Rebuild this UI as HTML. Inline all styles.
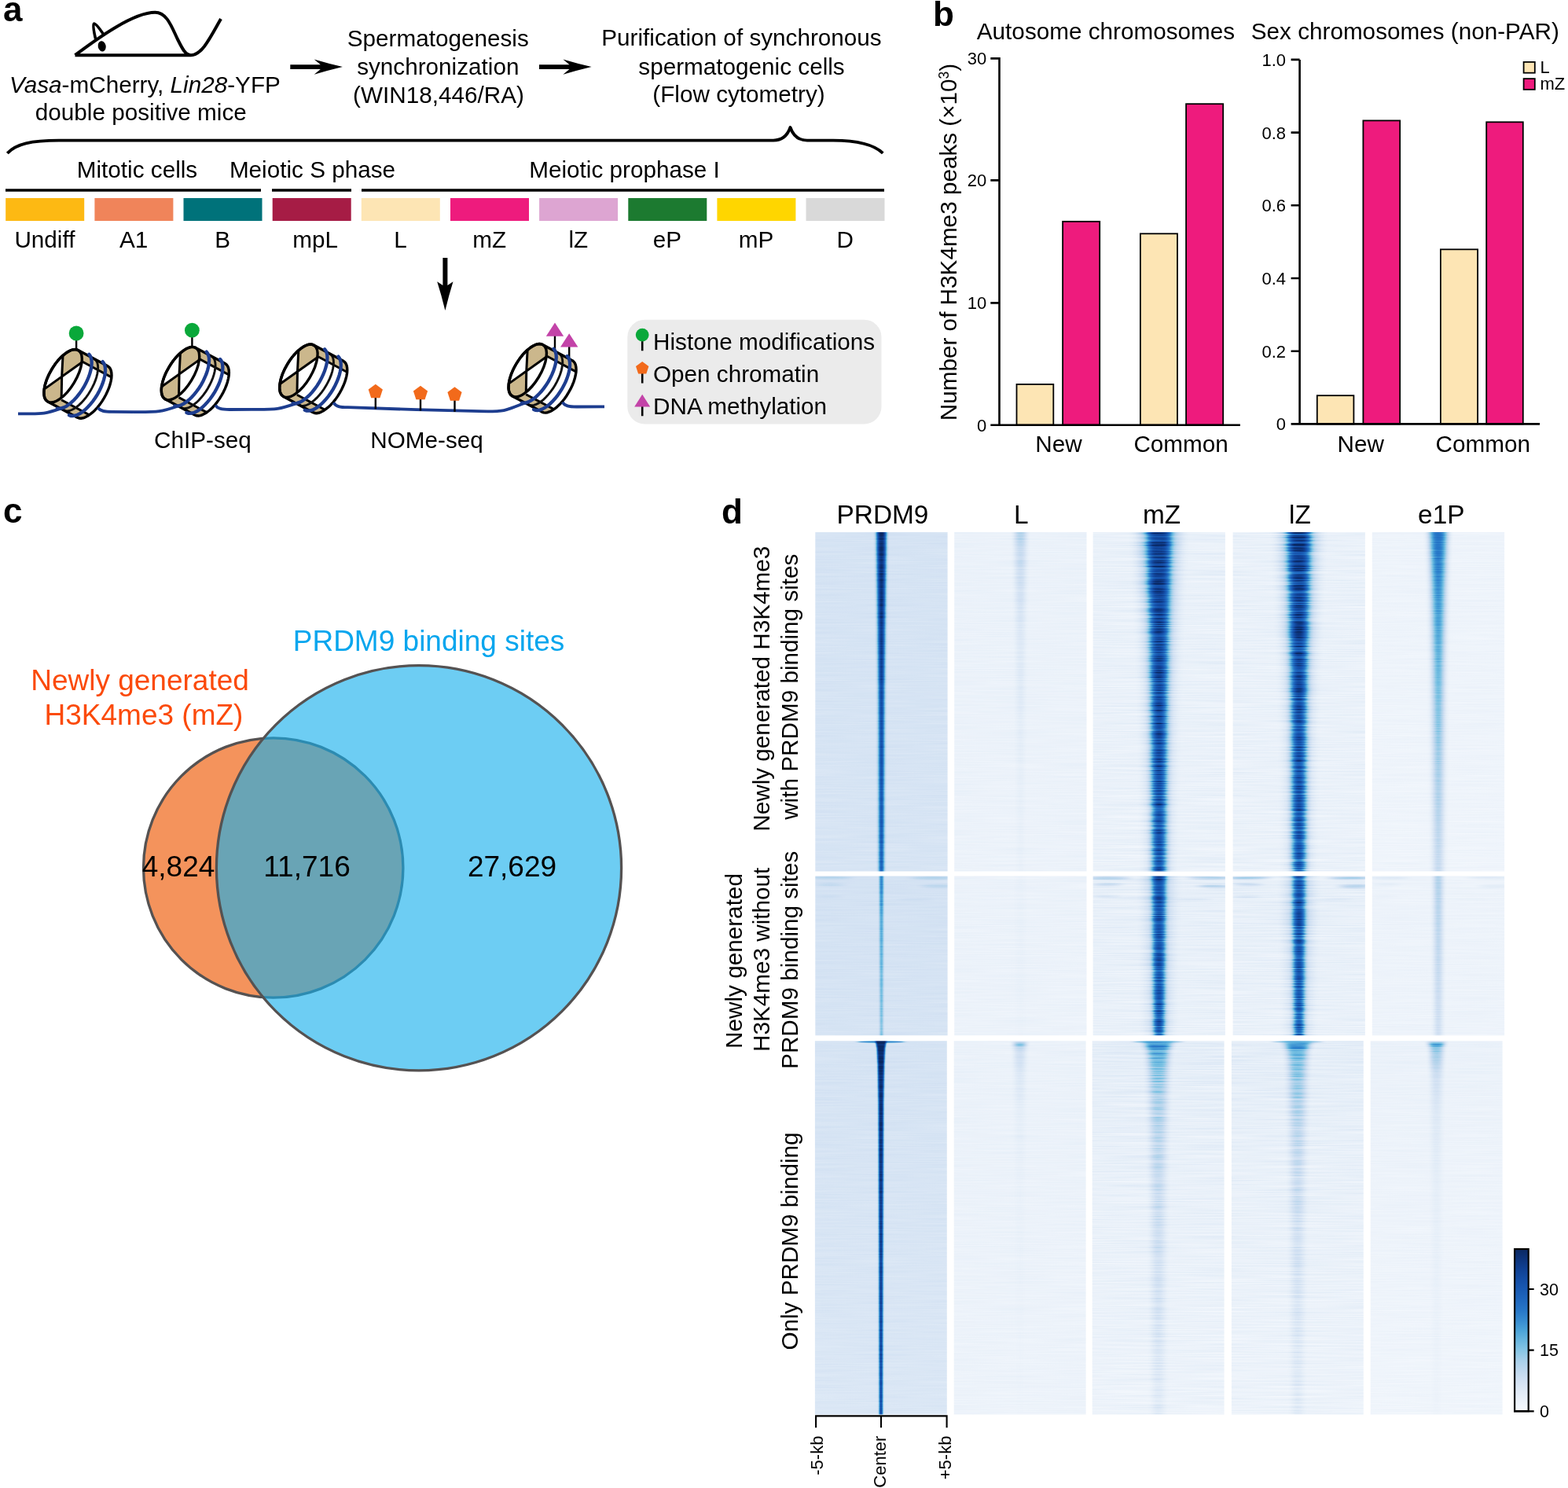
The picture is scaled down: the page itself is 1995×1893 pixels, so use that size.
<!DOCTYPE html>
<html lang="en">
<head>
<meta charset="utf-8">
<title>Figure</title>
<style>
html,body{margin:0;padding:0;background:#fff;}
body{width:1995px;height:1893px;overflow:hidden;}
svg{display:block;}
svg text{font-family:'Liberation Sans', Arial, Helvetica, sans-serif;}
</style>
</head>
<body>
<svg width="1995" height="1893" viewBox="0 0 1995 1893">
<rect width="1995" height="1893" fill="#fff"/>
<g id="panel_a">
<defs><clipPath id="nhull"><path d="M57.0,-12.5 L58.7,-11.2 L60.1,-9.4 L61.1,-7.1 L61.7,-4.2 L61.9,-1.0 L61.7,2.6 L61.0,6.5 L60.0,10.6 L58.6,14.9 L56.8,19.3 L54.7,23.7 L52.3,28.0 L49.7,32.3 L46.9,36.3 L43.9,40.0 L40.8,43.4 L37.6,46.4 L34.4,48.9 L31.3,51.0 L28.3,52.5 L25.5,53.5 L22.9,53.9 L20.5,53.7 L18.4,52.9 L-19.3,32.7 L-21.0,31.4 L-22.4,29.6 L-23.4,27.3 L-24.0,24.4 L-24.2,21.2 L-24.0,17.6 L-23.3,13.7 L-22.3,9.6 L-20.9,5.3 L-19.1,0.9 L-17.0,-3.5 L-14.6,-7.8 L-12.0,-12.1 L-9.2,-16.1 L-6.2,-19.8 L-3.1,-23.2 L0.1,-26.2 L3.3,-28.7 L6.4,-30.8 L9.4,-32.3 L12.2,-33.3 L14.8,-33.7 L17.2,-33.5 L19.3,-32.7Z"/></clipPath><clipPath id="nface"><ellipse rx="16.6" ry="38.0" transform="rotate(31.0)"/></clipPath><g id="nuc"><path d="M57.0,-12.5 L58.7,-11.2 L60.1,-9.4 L61.1,-7.1 L61.7,-4.2 L61.9,-1.0 L61.7,2.6 L61.0,6.5 L60.0,10.6 L58.6,14.9 L56.8,19.3 L54.7,23.7 L52.3,28.0 L49.7,32.3 L46.9,36.3 L43.9,40.0 L40.8,43.4 L37.6,46.4 L34.4,48.9 L31.3,51.0 L28.3,52.5 L25.5,53.5 L22.9,53.9 L20.5,53.7 L18.4,52.9 L-19.3,32.7 L-21.0,31.4 L-22.4,29.6 L-23.4,27.3 L-24.0,24.4 L-24.2,21.2 L-24.0,17.6 L-23.3,13.7 L-22.3,9.6 L-20.9,5.3 L-19.1,0.9 L-17.0,-3.5 L-14.6,-7.8 L-12.0,-12.1 L-9.2,-16.1 L-6.2,-19.8 L-3.1,-23.2 L0.1,-26.2 L3.3,-28.7 L6.4,-30.8 L9.4,-32.3 L12.2,-33.3 L14.8,-33.7 L17.2,-33.5 L19.3,-32.7Z" fill="#fff"/><g clip-path="url(#nhull)"><path d="M17.5,-22.0 L81.6,12.3 L81.6,-218.0 L-175.0,-218.0 L-175.0,-42.0Z" fill="#cbb78c"/><path d="M-13.3,24.4 L54.6,60.8 L54.6,230.5 L-202.0,230.5 L-202.0,30.5Z" fill="#cbb78c"/><path d="M25.0,-18.0 l45.2,24.2 M-2.0,30.5 l45.2,24.2" stroke="#000" stroke-width="3" fill="none"/><path d="M39.6,-21.8 L41.4,-20.5 L42.8,-18.7 L43.8,-16.3 L44.4,-13.5 L44.6,-10.3 L44.3,-6.7 L43.7,-2.8 L42.7,1.3 L41.3,5.6 L39.5,10.0 L37.4,14.4 L35.0,18.8 L32.4,23.0 L29.5,27.0 L26.5,30.7 L23.4,34.1 L20.3,37.1 L17.1,39.6 L14.0,41.7 L11.0,43.2 L8.2,44.2 L5.5,44.6 L3.2,44.4 L1.1,43.7" stroke="#111" stroke-width="2.9" fill="none"/></g><ellipse rx="16.6" ry="38.0" transform="rotate(31.0)" fill="#fff"/><g clip-path="url(#nface)"><path d="M-0.6,1.3 L0.5,-60.5 L60.0,-60.0 L55.0,-39.0Z" fill="#cbb78c"/><path d="M-0.6,1.3 L-54.0,38.0 L-60.0,60.0 L-3.5,60.5Z" fill="#cbb78c"/><path d="M0.5,-36.5 Q-2.1,1.3 -2.0,36.5 M-29.0,20.5 L30.0,-21.5" stroke="#000" stroke-width="3" fill="none"/></g><ellipse rx="16.6" ry="38.0" transform="rotate(31.0)" fill="none" stroke="#000" stroke-width="3.4"/><path d="M57.0,-12.5 L58.7,-11.2 L60.1,-9.4 L61.1,-7.1 L61.7,-4.2 L61.9,-1.0 L61.7,2.6 L61.0,6.5 L60.0,10.6 L58.6,14.9 L56.8,19.3 L54.7,23.7 L52.3,28.0 L49.7,32.3 L46.9,36.3 L43.9,40.0 L40.8,43.4 L37.6,46.4 L34.4,48.9 L31.3,51.0 L28.3,52.5 L25.5,53.5 L22.9,53.9 L20.5,53.7 L18.4,52.9 L-19.3,32.7 L-21.0,31.4 L-22.4,29.6 L-23.4,27.3 L-24.0,24.4 L-24.2,21.2 L-24.0,17.6 L-23.3,13.7 L-22.3,9.6 L-20.9,5.3 L-19.1,0.9 L-17.0,-3.5 L-14.6,-7.8 L-12.0,-12.1 L-9.2,-16.1 L-6.2,-19.8 L-3.1,-23.2 L0.1,-26.2 L3.3,-28.7 L6.4,-30.8 L9.4,-32.3 L12.2,-33.3 L14.8,-33.7 L17.2,-33.5 L19.3,-32.7Z" fill="none" stroke="#000" stroke-width="3.4" stroke-linejoin="round"/></g><g id="nucblue" fill="none" stroke="#1d3d8f" stroke-width="4.3" stroke-linecap="round"><path d="M33.2,-27.5 L34.7,-25.5 L35.7,-23.0 L36.4,-20.0 L36.6,-16.6 L36.3,-12.8 L35.7,-8.7 L34.6,-4.3 L33.1,0.3 L31.2,4.9 L29.0,9.6 L26.5,14.2 L23.7,18.6 L20.6,22.9 L17.5,26.8 L14.2,30.4 L10.8,33.6 L7.5,36.3 L4.2,38.5 L1.0,40.1 L-2.0,41.1 L-4.8,41.5 L-7.3,41.4"/><path d="M50.5,-18.2 L52.0,-16.2 L53.1,-13.7 L53.7,-10.8 L53.9,-7.3 L53.7,-3.5 L53.0,0.6 L51.9,5.0 L50.4,9.6 L48.6,14.2 L46.3,18.9 L43.8,23.5 L41.0,27.9 L38.0,32.2 L34.8,36.1 L31.5,39.7 L28.2,42.9 L24.8,45.6 L21.5,47.8 L18.4,49.4 L15.4,50.4 L12.6,50.8 L10.1,50.7 L7.9,49.9"/></g></defs>
<text x="4" y="27" font-size="44" font-weight="bold">a</text>
<path d="M95.5,70.2 H243 M95.5,70.2 C125,48 170,15.8 197.3,15.8 C213,15.8 219,36 226,50 C232,62 236,70.2 243,70.2 C257,70.2 268,47 281,24" fill="none" stroke="#000" stroke-width="4" stroke-linejoin="round"/>
<path d="M121.6,49.5 Q117.5,32 119.6,30 Q122.5,30 131.5,43.5" fill="none" stroke="#000" stroke-width="3.6" stroke-linejoin="round"/>
<ellipse cx="129.7" cy="58.9" rx="5" ry="6.7" transform="rotate(-12 129.7 58.9)"/>
<text x="12" y="117.8" font-size="29.7"><tspan font-style="italic">Vasa</tspan>-mCherry, <tspan font-style="italic">Lin28</tspan>-YFP</text>
<text x="179.3" y="152.6" font-size="29.7" text-anchor="middle">double positive mice</text>
<path d="M369.3,82.19999999999999 H407.8 L399.7,75.39999999999999 Q417.3,80.6 435.9,85.1 Q417.3,89.6 399.7,94.8 L407.8,88.0 H369.3 Z" fill="#000"/>
<text x="557.3" y="59.2" font-size="29.7" text-anchor="middle">Spermatogenesis</text>
<text x="557.3" y="94.7" font-size="29.7" text-anchor="middle">synchronization</text>
<text x="558" y="130.8" font-size="29.7" text-anchor="middle">(WIN18,446/RA)</text>
<path d="M686,82.19999999999999 H724.5 L716.4,75.39999999999999 Q734,80.6 752.6,85.1 Q734,89.6 716.4,94.8 L724.5,88.0 H686 Z" fill="#000"/>
<text x="943.5" y="58.4" font-size="29.7" text-anchor="middle">Purification of synchronous</text>
<text x="943.5" y="94.7" font-size="29.7" text-anchor="middle">spermatogenic cells</text>
<text x="940" y="130" font-size="29.7" text-anchor="middle">(Flow cytometry)</text>
<path d="M9.3,195 C20,183 40,178.6 75,178.6 H984 C996,178.6 1002,172 1005.5,162 C1009,172 1015,178.6 1027,178.6 H1060 C1092,178.6 1112,184 1123.3,194.8" fill="none" stroke="#000" stroke-width="3.8" stroke-linejoin="round"/>
<text x="174.5" y="225.5" font-size="29.7" text-anchor="middle">Mitotic cells</text>
<text x="397.5" y="225.5" font-size="29.7" text-anchor="middle">Meiotic S phase</text>
<text x="794.5" y="225.5" font-size="29.7" text-anchor="middle">Meiotic prophase I</text>
<path d="M7,242 H332 M346,242 H447 M460,242 H1125" stroke="#000" stroke-width="3.7" fill="none"/>
<rect x="7.2" y="252" width="100" height="29" fill="#fdb913"/>
<text x="56.9" y="314.6" font-size="29.7" text-anchor="middle">Undiff</text>
<rect x="120.4" y="252" width="100" height="29" fill="#f0845a"/>
<text x="170.1" y="314.6" font-size="29.7" text-anchor="middle">A1</text>
<rect x="233.5" y="252" width="100" height="29" fill="#00727a"/>
<text x="283.2" y="314.6" font-size="29.7" text-anchor="middle">B</text>
<rect x="346.7" y="252" width="100" height="29" fill="#a61c45"/>
<text x="401.2" y="314.6" font-size="29.7" text-anchor="middle">mpL</text>
<rect x="459.8" y="252" width="100" height="29" fill="#fde5b4"/>
<text x="509.5" y="314.6" font-size="29.7" text-anchor="middle">L</text>
<rect x="573.0" y="252" width="100" height="29" fill="#ee1b7d"/>
<text x="622.7" y="314.6" font-size="29.7" text-anchor="middle">mZ</text>
<rect x="686.1" y="252" width="100" height="29" fill="#dda5d2"/>
<text x="735.8" y="314.6" font-size="29.7" text-anchor="middle">lZ</text>
<rect x="799.3" y="252" width="100" height="29" fill="#1c7a30"/>
<text x="849.0" y="314.6" font-size="29.7" text-anchor="middle">eP</text>
<rect x="912.4" y="252" width="100" height="29" fill="#ffd600"/>
<text x="962.1" y="314.6" font-size="29.7" text-anchor="middle">mP</text>
<rect x="1025.5" y="252" width="100" height="29" fill="#d9d9d9"/>
<text x="1075.2" y="314.6" font-size="29.7" text-anchor="middle">D</text>
<path d="M563.4,328.1 H569.4 V363 L576.5,358.2 Q571,376 566.4,395 Q561.8,376 556.2,358.2 L563.4,363 Z" fill="#000"/>
<path d="M97.1,430 V446 M244.4,427 V443 M706,426 V446 M724.2,440 V456" stroke="#000" stroke-width="2.4" fill="none"/>
<use href="#nuc" x="80.1" y="478.3"/>
<use href="#nuc" x="229.5" y="475.1"/>
<use href="#nuc" x="379.9" y="471.8"/>
<use href="#nuc" x="671.2" y="471.2"/>
<g fill="none" stroke="#1d3d8f" stroke-width="3.8" stroke-linecap="butt" stroke-linejoin="round">
<path d="M23,526.3 C53.3,526.3 53.5,527.9 78.1,519.4"/>
<path d="M124.6,518.8 C127.6,522.8 132.6,523.8 142.6,523.8 L170,524.2 "/>
<path d="M170,524.2 C201.6,524.2 202.9,524.7 227.5,516.2"/>
<path d="M274.0,515.6 C277.0,520.0 282.0,521.0 292.0,521.0 L320,520.8"/>
<path d="M320,520.8 C351.9,520.8 353.3,521.4 377.9,512.9"/>
<path d="M424.4,512.3 C427.4,517.2 432.4,518.2 442.4,518.2 L530,521.2 L620,523.3"/>
<path d="M620,523.3 C647.1,523.3 644.6,520.8 669.2,512.3"/>
<path d="M715.7,511.7 C718.7,516.5 723.7,517.5 733.7,517.5 L769,517.3"/>
</g>
<use href="#nucblue" x="80.1" y="478.3"/>
<use href="#nucblue" x="229.5" y="475.1"/>
<use href="#nucblue" x="379.9" y="471.8"/>
<use href="#nucblue" x="671.2" y="471.2"/>
<circle cx="97.1" cy="424" r="9.4" fill="#0aa83a"/><circle cx="244.4" cy="420.2" r="9.4" fill="#0aa83a"/>
<path d="M477.8,504.4 V520.4" stroke="#000" stroke-width="2.4"/>
<polygon points="477.8,488.8 486.9,495.4 483.4,506.2 472.2,506.2 468.7,495.4" fill="#f26a1b"/>
<path d="M535,506.4 V522.4" stroke="#000" stroke-width="2.4"/>
<polygon points="535.0,490.8 544.1,497.4 540.6,508.2 529.4,508.2 525.9,497.4" fill="#f26a1b"/>
<path d="M578.5,507.9 V523.9" stroke="#000" stroke-width="2.4"/>
<polygon points="578.5,492.3 587.6,498.9 584.1,509.7 572.9,509.7 569.4,498.9" fill="#f26a1b"/>
<polygon points="706,410.4 717.2,427.7 694.8,427.7" fill="#c343a8"/><polygon points="724.2,424.2 735.4,441.5 713,441.5" fill="#c343a8"/>
<rect x="798.3" y="406.7" width="323.2" height="132.7" rx="22" fill="#ebebeb"/>
<path d="M817.2,432 V446.2 M817.2,474 V487.6 M817.2,516 V529.2" stroke="#000" stroke-width="2.6"/>
<circle cx="817.2" cy="426.1" r="8.4" fill="#0aa83a"/>
<polygon points="817.2,460.0 825.4,465.9 822.3,475.6 812.1,475.6 809.0,465.9" fill="#f26a1b"/>
<polygon points="817.2,501.7 827.2,517.6 807.2,517.6" fill="#c343a8"/>
<text x="831" y="445" font-size="29.7">Histone modifications</text>
<text x="831" y="485.7" font-size="29.7">Open chromatin</text>
<text x="831" y="527" font-size="29.7">DNA methylation</text>
<text x="258" y="570" font-size="29.7" text-anchor="middle">ChIP-seq</text>
<text x="543" y="570" font-size="29.7" text-anchor="middle">NOMe-seq</text>
</g>
<g id="panel_b">
<text x="1187" y="32.5" font-size="44" font-weight="bold">b</text>
<text x="1407" y="49.9" font-size="29.7" text-anchor="middle">Autosome chromosomes</text>
<text x="1787.8" y="49.9" font-size="29.7" text-anchor="middle">Sex chromosomes (non-PAR)</text>
<rect x="1293.5" y="488.9" width="46.8" height="51.8" fill="#fde5b4" stroke="#000" stroke-width="1.8"/>
<rect x="1352.1" y="281.8" width="47.1" height="258.9" fill="#ee1b7d" stroke="#000" stroke-width="1.8"/>
<rect x="1450.9" y="297.3" width="47.1" height="243.4" fill="#fde5b4" stroke="#000" stroke-width="1.8"/>
<rect x="1509.1" y="132.2" width="47.1" height="408.5" fill="#ee1b7d" stroke="#000" stroke-width="1.8"/>
<path d="M1260.3,74.4 H1271.5 V540.7 M1260.3,229.4 H1271.5 M1260.3,385.4 H1271.5 M1260.3,540.7 H1577.9" fill="none" stroke="#000" stroke-width="2.6"/>
<text x="1255.2" y="82.3" font-size="22" text-anchor="end">30</text>
<text x="1255.2" y="237.3" font-size="22" text-anchor="end">20</text>
<text x="1255.2" y="393.3" font-size="22" text-anchor="end">10</text>
<text x="1255.2" y="548.6" font-size="22" text-anchor="end">0</text>
<text x="1347" y="575.4" font-size="29.7" text-anchor="middle">New</text>
<text x="1502.6" y="575.4" font-size="29.7" text-anchor="middle">Common</text>
<text transform="translate(1216.5,308) rotate(-90)" font-size="29.7" text-anchor="middle">Number of H3K4me3 peaks (×10<tspan font-size="17.5" dy="-9.5">3</tspan><tspan dy="9.5">)</tspan></text>
<rect x="1675.8" y="503.2" width="46.6" height="36.2" fill="#fde5b4" stroke="#000" stroke-width="1.8"/>
<rect x="1734.4" y="153.4" width="46.8" height="386.0" fill="#ee1b7d" stroke="#000" stroke-width="1.8"/>
<rect x="1832.9" y="317.3" width="47.2" height="222.1" fill="#fde5b4" stroke="#000" stroke-width="1.8"/>
<rect x="1891.2" y="155.3" width="46.6" height="384.1" fill="#ee1b7d" stroke="#000" stroke-width="1.8"/>
<path d="M1642.6,75.9 H1653.6 M1642.6,168.6 H1653.6 M1642.6,261.3 H1653.6 M1642.6,354 H1653.6 M1642.6,446.7 H1653.6 M1653.6,75.9 V539.4 M1642.6,539.4 H1959.1" fill="none" stroke="#000" stroke-width="2.6"/>
<text x="1636" y="83.8" font-size="22" text-anchor="end">1.0</text>
<text x="1636" y="176.5" font-size="22" text-anchor="end">0.8</text>
<text x="1636" y="269.2" font-size="22" text-anchor="end">0.6</text>
<text x="1636" y="361.9" font-size="22" text-anchor="end">0.4</text>
<text x="1636" y="454.6" font-size="22" text-anchor="end">0.2</text>
<text x="1636" y="547.3" font-size="22" text-anchor="end">0</text>
<text x="1731.3" y="575.2" font-size="29.7" text-anchor="middle">New</text>
<text x="1886.8" y="575.2" font-size="29.7" text-anchor="middle">Common</text>
<rect x="1938.6" y="78.9" width="14.2" height="13.8" fill="#fde5b4" stroke="#000" stroke-width="1.8"/>
<rect x="1938.6" y="100.1" width="14.2" height="13.8" fill="#ee1b7d" stroke="#000" stroke-width="1.8"/>
<text x="1959.5" y="92.9" font-size="22">L</text>
<text x="1959.5" y="114.1" font-size="22">mZ</text>
</g>
<g id="panel_c">
<text x="4" y="665.3" font-size="44" font-weight="bold">c</text>
<text x="545.5" y="827.6" font-size="37" text-anchor="middle" fill="#08a6ee">PRDM9 binding sites</text>
<text x="178" y="877.7" font-size="37" text-anchor="middle" fill="#fb4a0a">Newly generated</text>
<text x="183" y="922" font-size="37" text-anchor="middle" fill="#fb4a0a">H3K4me3 (mZ)</text>
<circle cx="347.7" cy="1104" r="165.2" fill="#f4935c" stroke="#555252" stroke-width="3.3"/>
<circle cx="533" cy="1104.2" r="257.6" fill="#14afeb" fill-opacity="0.62"/>
<circle cx="533" cy="1104.2" r="257.6" fill="none" stroke="#555252" stroke-width="3.3"/>
<text x="227" y="1115" font-size="37" text-anchor="middle">4,824</text>
<text x="390.5" y="1115" font-size="37" text-anchor="middle">11,716</text>
<text x="651.5" y="1115" font-size="37" text-anchor="middle">27,629</text>
</g>
<g id="panel_d">
<defs><filter id="bluesA" color-interpolation-filters="sRGB" x="0" y="0" width="1" height="1"><feTurbulence type="fractalNoise" baseFrequency="0.012 0.7" numOctaves="2" seed="3" result="n"/><feColorMatrix in="n" type="matrix" values="0 0 0 0 0  0 0 0 0 0  0 0 0 0 0  1.8 0 0 0 -0.4" result="na"/><feColorMatrix in="na" type="matrix" values="0 0 0 1 0  0 0 0 1 0  0 0 0 1 0  0 0 0 0 1" result="ng"/><feComposite in="SourceGraphic" in2="ng" operator="arithmetic" k1="0.1" k2="0.950" k3="0.02" k4="-0.0100" result="m"/><feComponentTransfer in="m"><feFuncR type="table" tableValues="0.969 0.951 0.933 0.916 0.898 0.876 0.855 0.833 0.812 0.780 0.749 0.718 0.686 0.634 0.582 0.530 0.478 0.431 0.384 0.337 0.290 0.259 0.227 0.196 0.165 0.152 0.139 0.126 0.114 0.106 0.098 0.090 0.082 0.076 0.071 0.065 0.059 0.054 0.049 0.044 0.039"/><feFuncG type="table" tableValues="0.980 0.969 0.957 0.945 0.933 0.919 0.904 0.889 0.875 0.862 0.849 0.836 0.824 0.808 0.792 0.776 0.761 0.730 0.700 0.670 0.639 0.601 0.563 0.525 0.486 0.463 0.439 0.416 0.392 0.373 0.353 0.333 0.314 0.294 0.275 0.255 0.235 0.216 0.196 0.176 0.157"/><feFuncB type="table" tableValues="0.996 0.990 0.984 0.978 0.973 0.967 0.961 0.955 0.949 0.942 0.935 0.928 0.922 0.914 0.906 0.898 0.890 0.879 0.869 0.858 0.847 0.834 0.822 0.809 0.796 0.781 0.767 0.752 0.737 0.720 0.702 0.684 0.667 0.637 0.608 0.578 0.549 0.508 0.467 0.425 0.384"/></feComponentTransfer></filter><filter id="bluesB" color-interpolation-filters="sRGB" x="0" y="0" width="1" height="1"><feTurbulence type="fractalNoise" baseFrequency="0.012 0.7" numOctaves="2" seed="11" result="n"/><feColorMatrix in="n" type="matrix" values="0 0 0 0 0  0 0 0 0 0  0 0 0 0 0  1.8 0 0 0 -0.4" result="na"/><feColorMatrix in="na" type="matrix" values="0 0 0 1 0  0 0 0 1 0  0 0 0 1 0  0 0 0 0 1" result="ng"/><feComposite in="SourceGraphic" in2="ng" operator="arithmetic" k1="0.16" k2="0.920" k3="0.03" k4="-0.0150" result="m"/><feComponentTransfer in="m"><feFuncR type="table" tableValues="0.969 0.951 0.933 0.916 0.898 0.876 0.855 0.833 0.812 0.780 0.749 0.718 0.686 0.634 0.582 0.530 0.478 0.431 0.384 0.337 0.290 0.259 0.227 0.196 0.165 0.152 0.139 0.126 0.114 0.106 0.098 0.090 0.082 0.076 0.071 0.065 0.059 0.054 0.049 0.044 0.039"/><feFuncG type="table" tableValues="0.980 0.969 0.957 0.945 0.933 0.919 0.904 0.889 0.875 0.862 0.849 0.836 0.824 0.808 0.792 0.776 0.761 0.730 0.700 0.670 0.639 0.601 0.563 0.525 0.486 0.463 0.439 0.416 0.392 0.373 0.353 0.333 0.314 0.294 0.275 0.255 0.235 0.216 0.196 0.176 0.157"/><feFuncB type="table" tableValues="0.996 0.990 0.984 0.978 0.973 0.967 0.961 0.955 0.949 0.942 0.935 0.928 0.922 0.914 0.906 0.898 0.890 0.879 0.869 0.858 0.847 0.834 0.822 0.809 0.796 0.781 0.767 0.752 0.737 0.720 0.702 0.684 0.667 0.637 0.608 0.578 0.549 0.508 0.467 0.425 0.384"/></feComponentTransfer></filter><filter id="bluesC" color-interpolation-filters="sRGB" x="0" y="0" width="1" height="1"><feTurbulence type="fractalNoise" baseFrequency="0.010 0.7" numOctaves="2" seed="5" result="n"/><feColorMatrix in="n" type="matrix" values="0 0 0 0 0  0 0 0 0 0  0 0 0 0 0  1.8 0 0 0 -0.4" result="na"/><feColorMatrix in="na" type="matrix" values="0 0 0 1 0  0 0 0 1 0  0 0 0 1 0  0 0 0 0 1" result="ng"/><feComposite in="SourceGraphic" in2="ng" operator="arithmetic" k1="0.4" k2="0.800" k3="0.05" k4="-0.0250" result="m"/><feComponentTransfer in="m"><feFuncR type="table" tableValues="0.969 0.951 0.933 0.916 0.898 0.876 0.855 0.833 0.812 0.780 0.749 0.718 0.686 0.634 0.582 0.530 0.478 0.431 0.384 0.337 0.290 0.259 0.227 0.196 0.165 0.152 0.139 0.126 0.114 0.106 0.098 0.090 0.082 0.076 0.071 0.065 0.059 0.054 0.049 0.044 0.039"/><feFuncG type="table" tableValues="0.980 0.969 0.957 0.945 0.933 0.919 0.904 0.889 0.875 0.862 0.849 0.836 0.824 0.808 0.792 0.776 0.761 0.730 0.700 0.670 0.639 0.601 0.563 0.525 0.486 0.463 0.439 0.416 0.392 0.373 0.353 0.333 0.314 0.294 0.275 0.255 0.235 0.216 0.196 0.176 0.157"/><feFuncB type="table" tableValues="0.996 0.990 0.984 0.978 0.973 0.967 0.961 0.955 0.949 0.942 0.935 0.928 0.922 0.914 0.906 0.898 0.890 0.879 0.869 0.858 0.847 0.834 0.822 0.809 0.796 0.781 0.767 0.752 0.737 0.720 0.702 0.684 0.667 0.637 0.608 0.578 0.549 0.508 0.467 0.425 0.384"/></feComponentTransfer></filter><filter id="hb1" color-interpolation-filters="sRGB" x="-2" y="-0.1" width="5" height="1.2"><feGaussianBlur stdDeviation="1 0.6"/></filter><filter id="hb2" color-interpolation-filters="sRGB" x="-2" y="-0.1" width="5" height="1.2"><feGaussianBlur stdDeviation="2 0.6"/></filter><filter id="hb3" color-interpolation-filters="sRGB" x="-2" y="-0.1" width="5" height="1.2"><feGaussianBlur stdDeviation="3 0.6"/></filter><filter id="hb4" color-interpolation-filters="sRGB" x="-2" y="-0.1" width="5" height="1.2"><feGaussianBlur stdDeviation="4 0.6"/></filter><filter id="hb8" color-interpolation-filters="sRGB" x="-2" y="-0.1" width="5" height="1.2"><feGaussianBlur stdDeviation="8 0.6"/></filter><filter id="hbs" color-interpolation-filters="sRGB" x="-0.5" y="-3" width="2" height="7"><feGaussianBlur stdDeviation="6 1.2"/></filter></defs>
<text x="918" y="666.3" font-size="44" font-weight="bold">d</text>
<text x="1123.0" y="666.1" font-size="33.4" text-anchor="middle">PRDM9</text>
<text x="1299.2" y="666.1" font-size="33.4" text-anchor="middle">L</text>
<text x="1478.1" y="666.1" font-size="33.4" text-anchor="middle">mZ</text>
<text x="1653.9" y="666.1" font-size="33.4" text-anchor="middle">lZ</text>
<text x="1833.8" y="666.1" font-size="33.4" text-anchor="middle">e1P</text>
<clipPath id="cc00"><rect x="1037.3" y="676.9" width="168.3" height="431.7"/></clipPath>
<g clip-path="url(#cc00)"><g filter="url(#bluesA)"><linearGradient id="bg1" gradientUnits="userSpaceOnUse" x1="0" y1="676.9" x2="0" y2="1108.6"><stop offset="0.000" stop-color="#2b2b2b"/><stop offset="1.000" stop-color="#292929"/></linearGradient><rect x="1035.3" y="674.9" width="172.3" height="435.7" fill="url(#bg1)"/><linearGradient id="pg2" gradientUnits="userSpaceOnUse" x1="0" y1="676.9" x2="0" y2="1108.6"><stop offset="0.000" stop-color="#fff" stop-opacity="0.960"/><stop offset="1.000" stop-color="#fff" stop-opacity="0.930"/></linearGradient><path d="M1115.7,646.9 L1115.7,676.9 L1117.2,784.8 L1118.5,892.8 L1119.2,1108.6 L1119.2,1138.6 L1123.7,1138.6 L1123.7,1108.6 L1124.5,892.8 L1125.7,784.8 L1127.2,676.9 L1127.2,646.9Z" fill="url(#pg2)" filter="url(#hb2)"/></g></g>
<clipPath id="cc01"><rect x="1214.2" y="676.9" width="168.3" height="431.7"/></clipPath>
<g clip-path="url(#cc01)"><g filter="url(#bluesB)"><linearGradient id="bg3" gradientUnits="userSpaceOnUse" x1="0" y1="676.9" x2="0" y2="1108.6"><stop offset="0.000" stop-color="#111111"/><stop offset="1.000" stop-color="#0f0f0f"/></linearGradient><rect x="1212.2" y="674.9" width="172.3" height="435.7" fill="url(#bg3)"/><linearGradient id="pg4" gradientUnits="userSpaceOnUse" x1="0" y1="676.9" x2="0" y2="1108.6"><stop offset="0.000" stop-color="#fff" stop-opacity="0.260"/><stop offset="0.050" stop-color="#fff" stop-opacity="0.180"/><stop offset="0.300" stop-color="#fff" stop-opacity="0.090"/><stop offset="0.600" stop-color="#fff" stop-opacity="0.050"/><stop offset="1.000" stop-color="#fff" stop-opacity="0.030"/></linearGradient><path d="M1291.4,646.9 L1291.4,676.9 L1293.4,806.4 L1294.9,1108.6 L1294.9,1138.6 L1301.9,1138.6 L1301.9,1108.6 L1303.4,806.4 L1305.4,676.9 L1305.4,646.9Z" fill="url(#pg4)" filter="url(#hb3)"/></g></g>
<clipPath id="cc02"><rect x="1390.6" y="676.9" width="168.3" height="431.7"/></clipPath>
<g clip-path="url(#cc02)"><g filter="url(#bluesC)"><linearGradient id="bg5" gradientUnits="userSpaceOnUse" x1="0" y1="676.9" x2="0" y2="1108.6"><stop offset="0.000" stop-color="#131313"/><stop offset="1.000" stop-color="#111111"/></linearGradient><rect x="1388.6" y="674.9" width="172.3" height="435.7" fill="url(#bg5)"/><linearGradient id="pg6" gradientUnits="userSpaceOnUse" x1="0" y1="676.9" x2="0" y2="1108.6"><stop offset="0.000" stop-color="#fff" stop-opacity="0.340"/><stop offset="1.000" stop-color="#fff" stop-opacity="0.260"/></linearGradient><path d="M1450.8,646.9 L1450.8,676.9 L1456.8,784.8 L1460.8,892.8 L1463.8,1108.6 L1463.8,1138.6 L1485.8,1138.6 L1485.8,1108.6 L1488.8,892.8 L1492.8,784.8 L1498.8,676.9 L1498.8,646.9Z" fill="url(#pg6)" filter="url(#hb8)"/><linearGradient id="pg7" gradientUnits="userSpaceOnUse" x1="0" y1="676.9" x2="0" y2="1108.6"><stop offset="0.000" stop-color="#fff" stop-opacity="0.800"/><stop offset="1.000" stop-color="#fff" stop-opacity="0.770"/></linearGradient><path d="M1461.2,646.9 L1461.2,676.9 L1464.8,784.8 L1466.8,892.8 L1468.2,1108.6 L1468.2,1138.6 L1481.2,1138.6 L1481.2,1108.6 L1482.8,892.8 L1484.8,784.8 L1488.2,676.9 L1488.2,646.9Z" fill="url(#pg7)" filter="url(#hb4)"/></g></g>
<clipPath id="cc03"><rect x="1568.6" y="676.9" width="168.3" height="431.7"/></clipPath>
<g clip-path="url(#cc03)"><g filter="url(#bluesC)"><linearGradient id="bg8" gradientUnits="userSpaceOnUse" x1="0" y1="676.9" x2="0" y2="1108.6"><stop offset="0.000" stop-color="#131313"/><stop offset="1.000" stop-color="#111111"/></linearGradient><rect x="1566.6" y="674.9" width="172.3" height="435.7" fill="url(#bg8)"/><linearGradient id="pg9" gradientUnits="userSpaceOnUse" x1="0" y1="676.9" x2="0" y2="1108.6"><stop offset="0.000" stop-color="#fff" stop-opacity="0.340"/><stop offset="1.000" stop-color="#fff" stop-opacity="0.260"/></linearGradient><path d="M1630.8,646.9 L1630.8,676.9 L1635.8,784.8 L1639.8,892.8 L1642.8,1108.6 L1642.8,1138.6 L1662.8,1138.6 L1662.8,1108.6 L1665.8,892.8 L1669.8,784.8 L1674.8,676.9 L1674.8,646.9Z" fill="url(#pg9)" filter="url(#hb8)"/><linearGradient id="pg10" gradientUnits="userSpaceOnUse" x1="0" y1="676.9" x2="0" y2="1108.6"><stop offset="0.000" stop-color="#fff" stop-opacity="0.800"/><stop offset="1.000" stop-color="#fff" stop-opacity="0.770"/></linearGradient><path d="M1640.2,646.9 L1640.2,676.9 L1643.2,784.8 L1645.2,892.8 L1646.8,1108.6 L1646.8,1138.6 L1658.8,1138.6 L1658.8,1108.6 L1660.2,892.8 L1662.2,784.8 L1665.2,676.9 L1665.2,646.9Z" fill="url(#pg10)" filter="url(#hb4)"/></g></g>
<clipPath id="cc04"><rect x="1745.8" y="676.9" width="168.3" height="431.7"/></clipPath>
<g clip-path="url(#cc04)"><g filter="url(#bluesB)"><linearGradient id="bg11" gradientUnits="userSpaceOnUse" x1="0" y1="676.9" x2="0" y2="1108.6"><stop offset="0.000" stop-color="#0d0d0d"/><stop offset="1.000" stop-color="#0b0b0b"/></linearGradient><rect x="1743.8" y="674.9" width="172.3" height="435.7" fill="url(#bg11)"/><linearGradient id="pg12" gradientUnits="userSpaceOnUse" x1="0" y1="676.9" x2="0" y2="1108.6"><stop offset="0.000" stop-color="#fff" stop-opacity="0.620"/><stop offset="0.200" stop-color="#fff" stop-opacity="0.540"/><stop offset="0.450" stop-color="#fff" stop-opacity="0.460"/><stop offset="0.700" stop-color="#fff" stop-opacity="0.360"/><stop offset="1.000" stop-color="#fff" stop-opacity="0.260"/></linearGradient><path d="M1819.5,646.9 L1819.5,676.9 L1822.0,741.7 L1824.0,849.6 L1825.5,1108.6 L1825.5,1138.6 L1834.5,1138.6 L1834.5,1108.6 L1836.0,849.6 L1838.0,741.7 L1840.5,676.9 L1840.5,646.9Z" fill="url(#pg12)" filter="url(#hb4)"/></g></g>
<clipPath id="cc10"><rect x="1037.3" y="1114.4" width="168.3" height="202.9"/></clipPath>
<g clip-path="url(#cc10)"><g filter="url(#bluesA)"><linearGradient id="bg13" gradientUnits="userSpaceOnUse" x1="0" y1="1114.4" x2="0" y2="1317.3"><stop offset="0.000" stop-color="#2d2d2d"/><stop offset="1.000" stop-color="#2a2a2a"/></linearGradient><rect x="1035.3" y="1112.4" width="172.3" height="206.9" fill="url(#bg13)"/><ellipse cx="1056.7" cy="1116.9" rx="27.8" ry="1.6" fill="#fff" fill-opacity="0.16" filter="url(#hbs)"/><ellipse cx="1186.2" cy="1116.9" rx="27.8" ry="1.6" fill="#fff" fill-opacity="0.16" filter="url(#hbs)"/><ellipse cx="1055.8" cy="1125.4" rx="18.5" ry="1.8" fill="#fff" fill-opacity="0.088" filter="url(#hbs)"/><ellipse cx="1193.0" cy="1127.4" rx="21.0" ry="2.2" fill="#fff" fill-opacity="0.112" filter="url(#hbs)"/><ellipse cx="1054.1" cy="1140.4" rx="16.8" ry="1.5" fill="#fff" fill-opacity="0.056" filter="url(#hbs)"/><ellipse cx="1165.2" cy="1144.4" rx="23.6" ry="1.5" fill="#fff" fill-opacity="0.04" filter="url(#hbs)"/><linearGradient id="pg14" gradientUnits="userSpaceOnUse" x1="0" y1="1114.4" x2="0" y2="1317.3"><stop offset="0.000" stop-color="#fff" stop-opacity="0.500"/><stop offset="0.300" stop-color="#fff" stop-opacity="0.380"/><stop offset="1.000" stop-color="#fff" stop-opacity="0.280"/></linearGradient><path d="M1118.9,1084.4 L1118.9,1114.4 L1119.5,1317.3 L1119.5,1347.3 L1123.5,1347.3 L1123.5,1317.3 L1124.0,1114.4 L1124.0,1084.4Z" fill="url(#pg14)" filter="url(#hb1)"/></g></g>
<clipPath id="cc11"><rect x="1214.2" y="1114.4" width="168.3" height="202.9"/></clipPath>
<g clip-path="url(#cc11)"><g filter="url(#bluesB)"><linearGradient id="bg15" gradientUnits="userSpaceOnUse" x1="0" y1="1114.4" x2="0" y2="1317.3"><stop offset="0.000" stop-color="#101010"/><stop offset="1.000" stop-color="#0f0f0f"/></linearGradient><rect x="1212.2" y="1112.4" width="172.3" height="206.9" fill="url(#bg15)"/><linearGradient id="pg16" gradientUnits="userSpaceOnUse" x1="0" y1="1114.4" x2="0" y2="1317.3"><stop offset="0.000" stop-color="#fff" stop-opacity="0.030"/><stop offset="1.000" stop-color="#fff" stop-opacity="0.020"/></linearGradient><path d="M1293.4,1084.4 L1293.4,1114.4 L1294.4,1317.3 L1294.4,1347.3 L1302.4,1347.3 L1302.4,1317.3 L1303.4,1114.4 L1303.4,1084.4Z" fill="url(#pg16)" filter="url(#hb4)"/></g></g>
<clipPath id="cc12"><rect x="1390.6" y="1114.4" width="168.3" height="202.9"/></clipPath>
<g clip-path="url(#cc12)"><g filter="url(#bluesC)"><linearGradient id="bg17" gradientUnits="userSpaceOnUse" x1="0" y1="1114.4" x2="0" y2="1317.3"><stop offset="0.000" stop-color="#161616"/><stop offset="1.000" stop-color="#121212"/></linearGradient><rect x="1388.6" y="1112.4" width="172.3" height="206.9" fill="url(#bg17)"/><ellipse cx="1410.0" cy="1116.9" rx="27.8" ry="1.6" fill="#fff" fill-opacity="0.3" filter="url(#hbs)"/><ellipse cx="1539.5" cy="1116.9" rx="27.8" ry="1.6" fill="#fff" fill-opacity="0.3" filter="url(#hbs)"/><ellipse cx="1409.1" cy="1125.4" rx="18.5" ry="1.8" fill="#fff" fill-opacity="0.165" filter="url(#hbs)"/><ellipse cx="1546.3" cy="1127.4" rx="21.0" ry="2.2" fill="#fff" fill-opacity="0.21" filter="url(#hbs)"/><ellipse cx="1407.4" cy="1140.4" rx="16.8" ry="1.5" fill="#fff" fill-opacity="0.105" filter="url(#hbs)"/><ellipse cx="1518.5" cy="1144.4" rx="23.6" ry="1.5" fill="#fff" fill-opacity="0.075" filter="url(#hbs)"/><linearGradient id="pg18" gradientUnits="userSpaceOnUse" x1="0" y1="1114.4" x2="0" y2="1317.3"><stop offset="0.000" stop-color="#fff" stop-opacity="0.240"/><stop offset="1.000" stop-color="#fff" stop-opacity="0.200"/></linearGradient><path d="M1459.8,1084.4 L1459.8,1114.4 L1463.8,1317.3 L1463.8,1347.3 L1485.8,1347.3 L1485.8,1317.3 L1489.8,1114.4 L1489.8,1084.4Z" fill="url(#pg18)" filter="url(#hb8)"/><linearGradient id="pg19" gradientUnits="userSpaceOnUse" x1="0" y1="1114.4" x2="0" y2="1317.3"><stop offset="0.000" stop-color="#fff" stop-opacity="0.740"/><stop offset="1.000" stop-color="#fff" stop-opacity="0.720"/></linearGradient><path d="M1467.2,1084.4 L1467.2,1114.4 L1469.2,1317.3 L1469.2,1347.3 L1480.2,1347.3 L1480.2,1317.3 L1482.2,1114.4 L1482.2,1084.4Z" fill="url(#pg19)" filter="url(#hb3)"/></g></g>
<clipPath id="cc13"><rect x="1568.6" y="1114.4" width="168.3" height="202.9"/></clipPath>
<g clip-path="url(#cc13)"><g filter="url(#bluesC)"><linearGradient id="bg20" gradientUnits="userSpaceOnUse" x1="0" y1="1114.4" x2="0" y2="1317.3"><stop offset="0.000" stop-color="#161616"/><stop offset="1.000" stop-color="#121212"/></linearGradient><rect x="1566.6" y="1112.4" width="172.3" height="206.9" fill="url(#bg20)"/><ellipse cx="1588.0" cy="1116.9" rx="27.8" ry="1.6" fill="#fff" fill-opacity="0.3" filter="url(#hbs)"/><ellipse cx="1717.5" cy="1116.9" rx="27.8" ry="1.6" fill="#fff" fill-opacity="0.3" filter="url(#hbs)"/><ellipse cx="1587.1" cy="1125.4" rx="18.5" ry="1.8" fill="#fff" fill-opacity="0.165" filter="url(#hbs)"/><ellipse cx="1724.3" cy="1127.4" rx="21.0" ry="2.2" fill="#fff" fill-opacity="0.21" filter="url(#hbs)"/><ellipse cx="1585.4" cy="1140.4" rx="16.8" ry="1.5" fill="#fff" fill-opacity="0.105" filter="url(#hbs)"/><ellipse cx="1696.5" cy="1144.4" rx="23.6" ry="1.5" fill="#fff" fill-opacity="0.075" filter="url(#hbs)"/><linearGradient id="pg21" gradientUnits="userSpaceOnUse" x1="0" y1="1114.4" x2="0" y2="1317.3"><stop offset="0.000" stop-color="#fff" stop-opacity="0.240"/><stop offset="1.000" stop-color="#fff" stop-opacity="0.200"/></linearGradient><path d="M1638.8,1084.4 L1638.8,1114.4 L1642.8,1317.3 L1642.8,1347.3 L1662.8,1347.3 L1662.8,1317.3 L1666.8,1114.4 L1666.8,1084.4Z" fill="url(#pg21)" filter="url(#hb8)"/><linearGradient id="pg22" gradientUnits="userSpaceOnUse" x1="0" y1="1114.4" x2="0" y2="1317.3"><stop offset="0.000" stop-color="#fff" stop-opacity="0.730"/><stop offset="1.000" stop-color="#fff" stop-opacity="0.710"/></linearGradient><path d="M1646.0,1084.4 L1646.0,1114.4 L1647.5,1317.3 L1647.5,1347.3 L1658.0,1347.3 L1658.0,1317.3 L1659.5,1114.4 L1659.5,1084.4Z" fill="url(#pg22)" filter="url(#hb3)"/></g></g>
<clipPath id="cc14"><rect x="1745.8" y="1114.4" width="168.3" height="202.9"/></clipPath>
<g clip-path="url(#cc14)"><g filter="url(#bluesB)"><linearGradient id="bg23" gradientUnits="userSpaceOnUse" x1="0" y1="1114.4" x2="0" y2="1317.3"><stop offset="0.000" stop-color="#0e0e0e"/><stop offset="1.000" stop-color="#0d0d0d"/></linearGradient><rect x="1743.8" y="1112.4" width="172.3" height="206.9" fill="url(#bg23)"/><ellipse cx="1765.2" cy="1116.9" rx="27.8" ry="1.6" fill="#fff" fill-opacity="0.1" filter="url(#hbs)"/><ellipse cx="1894.7" cy="1116.9" rx="27.8" ry="1.6" fill="#fff" fill-opacity="0.1" filter="url(#hbs)"/><ellipse cx="1764.3" cy="1125.4" rx="18.5" ry="1.8" fill="#fff" fill-opacity="0.055" filter="url(#hbs)"/><ellipse cx="1901.5" cy="1127.4" rx="21.0" ry="2.2" fill="#fff" fill-opacity="0.07" filter="url(#hbs)"/><ellipse cx="1762.6" cy="1140.4" rx="16.8" ry="1.5" fill="#fff" fill-opacity="0.035" filter="url(#hbs)"/><ellipse cx="1873.7" cy="1144.4" rx="23.6" ry="1.5" fill="#fff" fill-opacity="0.025" filter="url(#hbs)"/><linearGradient id="pg24" gradientUnits="userSpaceOnUse" x1="0" y1="1114.4" x2="0" y2="1317.3"><stop offset="0.000" stop-color="#fff" stop-opacity="0.280"/><stop offset="1.000" stop-color="#fff" stop-opacity="0.180"/></linearGradient><path d="M1825.0,1084.4 L1825.0,1114.4 L1826.0,1317.3 L1826.0,1347.3 L1834.0,1347.3 L1834.0,1317.3 L1835.0,1114.4 L1835.0,1084.4Z" fill="url(#pg24)" filter="url(#hb3)"/></g></g>
<clipPath id="cc20"><rect x="1036.9" y="1324.2" width="167.9" height="475.2"/></clipPath>
<g clip-path="url(#cc20)"><g filter="url(#bluesA)"><linearGradient id="bg25" gradientUnits="userSpaceOnUse" x1="0" y1="1324.2" x2="0" y2="1799.4"><stop offset="0.000" stop-color="#2b2b2b"/><stop offset="1.000" stop-color="#252525"/></linearGradient><rect x="1034.9" y="1322.2" width="171.9" height="479.2" fill="url(#bg25)"/><linearGradient id="pg26" gradientUnits="userSpaceOnUse" x1="0" y1="1324.2" x2="0" y2="1799.4"><stop offset="0.000" stop-color="#fff" stop-opacity="0.970"/><stop offset="0.500" stop-color="#fff" stop-opacity="0.920"/><stop offset="1.000" stop-color="#fff" stop-opacity="0.800"/></linearGradient><path d="M1114.1,1294.2 L1114.1,1324.2 L1115.9,1333.7 L1116.9,1354.1 L1117.8,1405.0 L1118.4,1561.8 L1118.8,1799.4 L1118.8,1829.4 L1123.0,1829.4 L1123.0,1799.4 L1123.4,1561.8 L1124.0,1405.0 L1124.9,1354.1 L1125.9,1333.7 L1127.7,1324.2 L1127.7,1294.2Z" fill="url(#pg26)" filter="url(#hb1)"/><ellipse cx="1120.9" cy="1325.4" rx="30" ry="1.3" fill="#fff" fill-opacity="0.5" filter="url(#hb3)"/></g></g>
<clipPath id="cc21"><rect x="1213.7" y="1324.2" width="167.9" height="475.2"/></clipPath>
<g clip-path="url(#cc21)"><g filter="url(#bluesB)"><linearGradient id="bg27" gradientUnits="userSpaceOnUse" x1="0" y1="1324.2" x2="0" y2="1799.4"><stop offset="0.000" stop-color="#111111"/><stop offset="1.000" stop-color="#0e0e0e"/></linearGradient><rect x="1211.7" y="1322.2" width="171.9" height="479.2" fill="url(#bg27)"/><linearGradient id="pg28" gradientUnits="userSpaceOnUse" x1="0" y1="1324.2" x2="0" y2="1799.4"><stop offset="0.000" stop-color="#fff" stop-opacity="0.050"/><stop offset="0.009" stop-color="#fff" stop-opacity="0.400"/><stop offset="0.018" stop-color="#fff" stop-opacity="0.180"/><stop offset="0.050" stop-color="#fff" stop-opacity="0.130"/><stop offset="0.100" stop-color="#fff" stop-opacity="0.080"/><stop offset="0.200" stop-color="#fff" stop-opacity="0.040"/><stop offset="0.400" stop-color="#fff" stop-opacity="0.020"/><stop offset="1.000" stop-color="#fff" stop-opacity="0.010"/></linearGradient><path d="M1289.7,1294.2 L1289.7,1324.2 L1290.7,1333.7 L1291.7,1371.7 L1293.2,1799.4 L1293.2,1829.4 L1302.2,1829.4 L1302.2,1799.4 L1303.7,1371.7 L1304.7,1333.7 L1305.7,1324.2 L1305.7,1294.2Z" fill="url(#pg28)" filter="url(#hb3)"/></g></g>
<clipPath id="cc22"><rect x="1389.7" y="1324.2" width="167.9" height="475.2"/></clipPath>
<g clip-path="url(#cc22)"><g filter="url(#bluesC)"><linearGradient id="bg29" gradientUnits="userSpaceOnUse" x1="0" y1="1324.2" x2="0" y2="1799.4"><stop offset="0.000" stop-color="#1a1a1a"/><stop offset="0.300" stop-color="#141414"/><stop offset="1.000" stop-color="#0e0e0e"/></linearGradient><rect x="1387.7" y="1322.2" width="171.9" height="479.2" fill="url(#bg29)"/><linearGradient id="pg30" gradientUnits="userSpaceOnUse" x1="0" y1="1324.2" x2="0" y2="1799.4"><stop offset="0.000" stop-color="#fff" stop-opacity="0.150"/><stop offset="0.011" stop-color="#fff" stop-opacity="0.500"/><stop offset="0.021" stop-color="#fff" stop-opacity="0.440"/><stop offset="0.042" stop-color="#fff" stop-opacity="0.390"/><stop offset="0.084" stop-color="#fff" stop-opacity="0.310"/><stop offset="0.126" stop-color="#fff" stop-opacity="0.260"/><stop offset="0.246" stop-color="#fff" stop-opacity="0.200"/><stop offset="0.364" stop-color="#fff" stop-opacity="0.170"/><stop offset="0.630" stop-color="#fff" stop-opacity="0.130"/><stop offset="1.000" stop-color="#fff" stop-opacity="0.080"/></linearGradient><path d="M1453.7,1294.2 L1453.7,1324.2 L1457.7,1329.2 L1460.7,1338.5 L1462.7,1364.1 L1464.7,1443.0 L1466.2,1561.8 L1467.2,1799.4 L1467.2,1829.4 L1480.2,1829.4 L1480.2,1799.4 L1481.2,1561.8 L1482.7,1443.0 L1484.7,1364.1 L1486.7,1338.5 L1489.7,1329.2 L1493.7,1324.2 L1493.7,1294.2Z" fill="url(#pg30)" filter="url(#hb4)"/><ellipse cx="1473.7" cy="1325.4" rx="32" ry="1.3" fill="#fff" fill-opacity="0.3" filter="url(#hb3)"/></g></g>
<clipPath id="cc23"><rect x="1566.9" y="1324.2" width="167.9" height="475.2"/></clipPath>
<g clip-path="url(#cc23)"><g filter="url(#bluesC)"><linearGradient id="bg31" gradientUnits="userSpaceOnUse" x1="0" y1="1324.2" x2="0" y2="1799.4"><stop offset="0.000" stop-color="#1a1a1a"/><stop offset="0.300" stop-color="#141414"/><stop offset="1.000" stop-color="#0e0e0e"/></linearGradient><rect x="1564.9" y="1322.2" width="171.9" height="479.2" fill="url(#bg31)"/><linearGradient id="pg32" gradientUnits="userSpaceOnUse" x1="0" y1="1324.2" x2="0" y2="1799.4"><stop offset="0.000" stop-color="#fff" stop-opacity="0.150"/><stop offset="0.011" stop-color="#fff" stop-opacity="0.500"/><stop offset="0.021" stop-color="#fff" stop-opacity="0.440"/><stop offset="0.042" stop-color="#fff" stop-opacity="0.380"/><stop offset="0.084" stop-color="#fff" stop-opacity="0.300"/><stop offset="0.126" stop-color="#fff" stop-opacity="0.250"/><stop offset="0.246" stop-color="#fff" stop-opacity="0.190"/><stop offset="0.364" stop-color="#fff" stop-opacity="0.160"/><stop offset="0.630" stop-color="#fff" stop-opacity="0.120"/><stop offset="1.000" stop-color="#fff" stop-opacity="0.070"/></linearGradient><path d="M1631.9,1294.2 L1631.9,1324.2 L1635.9,1329.2 L1638.9,1338.5 L1640.9,1364.1 L1642.4,1443.0 L1643.9,1561.8 L1644.9,1799.4 L1644.9,1829.4 L1656.9,1829.4 L1656.9,1799.4 L1657.9,1561.8 L1659.4,1443.0 L1660.9,1364.1 L1662.9,1338.5 L1665.9,1329.2 L1669.9,1324.2 L1669.9,1294.2Z" fill="url(#pg32)" filter="url(#hb4)"/><ellipse cx="1650.9" cy="1325.4" rx="32" ry="1.3" fill="#fff" fill-opacity="0.3" filter="url(#hb3)"/></g></g>
<clipPath id="cc24"><rect x="1743.7" y="1324.2" width="167.9" height="475.2"/></clipPath>
<g clip-path="url(#cc24)"><g filter="url(#bluesB)"><linearGradient id="bg33" gradientUnits="userSpaceOnUse" x1="0" y1="1324.2" x2="0" y2="1799.4"><stop offset="0.000" stop-color="#111111"/><stop offset="0.300" stop-color="#0e0e0e"/><stop offset="1.000" stop-color="#0a0a0a"/></linearGradient><rect x="1741.7" y="1322.2" width="171.9" height="479.2" fill="url(#bg33)"/><linearGradient id="pg34" gradientUnits="userSpaceOnUse" x1="0" y1="1324.2" x2="0" y2="1799.4"><stop offset="0.000" stop-color="#fff" stop-opacity="0.100"/><stop offset="0.009" stop-color="#fff" stop-opacity="0.520"/><stop offset="0.018" stop-color="#fff" stop-opacity="0.330"/><stop offset="0.050" stop-color="#fff" stop-opacity="0.250"/><stop offset="0.100" stop-color="#fff" stop-opacity="0.140"/><stop offset="0.200" stop-color="#fff" stop-opacity="0.080"/><stop offset="0.400" stop-color="#fff" stop-opacity="0.050"/><stop offset="1.000" stop-color="#fff" stop-opacity="0.020"/></linearGradient><path d="M1816.7,1294.2 L1816.7,1324.2 L1819.7,1333.7 L1821.2,1371.7 L1823.2,1799.4 L1823.2,1829.4 L1832.2,1829.4 L1832.2,1799.4 L1834.2,1371.7 L1835.7,1333.7 L1838.7,1324.2 L1838.7,1294.2Z" fill="url(#pg34)" filter="url(#hb3)"/></g></g>
<path d="M1038.1,1816.2 V1801.4 H1204.6 V1816.2 M1121,1801.4 V1816.2" fill="none" stroke="#000" stroke-width="2.1"/>
<text transform="translate(1047.4,1826.6) rotate(-90)" font-size="22" text-anchor="end">-5-kb</text>
<text transform="translate(1127.3,1826.6) rotate(-90)" font-size="22" text-anchor="end">Center</text>
<text transform="translate(1209.6,1826.6) rotate(-90)" font-size="22" text-anchor="end">+5-kb</text>
<linearGradient id="cbar" x1="0" y1="0" x2="0" y2="1"><stop offset="0.0000" stop-color="#0a2862"/><stop offset="0.0625" stop-color="#0d347c"/><stop offset="0.1250" stop-color="#104194"/><stop offset="0.1875" stop-color="#144ea6"/><stop offset="0.2500" stop-color="#195ab3"/><stop offset="0.3125" stop-color="#1f67be"/><stop offset="0.3750" stop-color="#2776c7"/><stop offset="0.4375" stop-color="#368bd0"/><stop offset="0.5000" stop-color="#4aa3d8"/><stop offset="0.5625" stop-color="#68b6df"/><stop offset="0.6250" stop-color="#87c6e5"/><stop offset="0.6875" stop-color="#a8d0ea"/><stop offset="0.7500" stop-color="#bfd8ee"/><stop offset="0.8125" stop-color="#d2e1f3"/><stop offset="0.8750" stop-color="#e0eaf6"/><stop offset="0.9375" stop-color="#ecf2fa"/><stop offset="1.0000" stop-color="#f7fafe"/></linearGradient>
<rect x="1927.1" y="1589" width="17.6" height="206.3" fill="url(#cbar)" stroke="#000" stroke-width="2.2"/>
<path d="M1944.7,1640 H1951.7 M1944.7,1717.6 H1951.7 M1926,1795.3 H1951.7" fill="none" stroke="#000" stroke-width="2.2"/>
<text x="1959" y="1647.6" font-size="21.5">30</text>
<text x="1959" y="1725.2" font-size="21.5">15</text>
<text x="1959" y="1802.9" font-size="21.5">0</text>
<text transform="translate(979.3,876.2) rotate(-90)" font-size="29.7" text-anchor="middle">Newly generated H3K4me3</text>
<text transform="translate(1015,873.7) rotate(-90)" font-size="29.7" text-anchor="middle">with PRDM9 binding sites</text>
<text transform="translate(944.3,1222.5) rotate(-90)" font-size="29.7" text-anchor="middle">Newly generated</text>
<text transform="translate(979.3,1220.9) rotate(-90)" font-size="29.7" text-anchor="middle">H3K4me3 without</text>
<text transform="translate(1015,1221.3) rotate(-90)" font-size="29.7" text-anchor="middle">PRDM9 binding sites</text>
<text transform="translate(1015,1579) rotate(-90)" font-size="29.7" text-anchor="middle">Only PRDM9 binding</text>
</g>
</svg>
</body>
</html>
